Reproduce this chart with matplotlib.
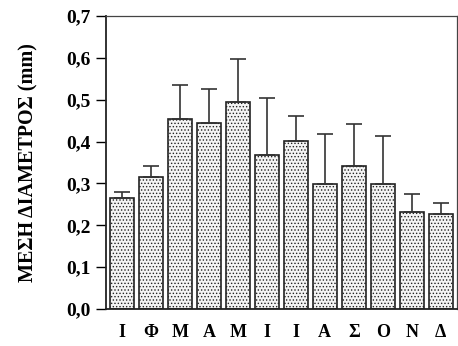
import matplotlib
matplotlib.use("Agg")
import matplotlib.pyplot as plt
import numpy as np

months = ["Ι", "Φ", "Μ", "Α", "Μ", "Ι", "Ι", "Α", "Σ", "Ο", "Ν", "Δ"]
means = [0.264, 0.316, 0.453, 0.445, 0.495, 0.367, 0.401, 0.298, 0.341, 0.298, 0.231, 0.227]
err_top = [0.279, 0.342, 0.534, 0.526, 0.598, 0.504, 0.461, 0.418, 0.443, 0.414, 0.275, 0.252]
yticks = [0.0, 0.1, 0.2, 0.3, 0.4, 0.5, 0.6, 0.7]
ylabel = "ΜΕΣΗ ΔΙΑΜΕΤΡΟΣ (mm)"

plt.rcParams['font.family'] = ['Liberation Serif', 'DejaVu Serif']
plt.rcParams['hatch.color'] = '#777777'
plt.rcParams['hatch.linewidth'] = 0.6

fig = plt.figure(figsize=(4.58, 3.46), dpi=100)
ax = fig.add_axes([0.2314, 0.107, 0.7656, 0.847])

x = np.arange(len(months))
errs = np.array(err_top) - np.array(means)
ax.bar(x, means, width=0.82, color='#f4f4f4', edgecolor='#222222', linewidth=1.2,
       hatch='.....', zorder=2)
ax.errorbar(x, means, yerr=[np.zeros(len(x)), errs], fmt='none', ecolor='#333333',
            elinewidth=1.2, capsize=6, capthick=1.2, zorder=3)

ax.set_xlim(-0.55, len(months) - 0.45)
ax.set_ylim(0, 0.7)
ax.set_yticks(yticks)
ax.set_yticklabels([f"{v:.1f}".replace('.', ',') for v in yticks], fontsize=14, fontweight='bold')
ax.set_xticks(x)
ax.set_xticklabels(months, fontsize=13, fontweight='bold')
ax.tick_params(axis='x', length=0, pad=11)
ax.tick_params(axis='y', direction='out', length=7, width=1, pad=4)
ax.set_ylabel(ylabel, fontsize=14.5, fontweight='bold', labelpad=20)

for s in ['left', 'bottom']:
    ax.spines[s].set_linewidth(1.3)
    ax.spines[s].set_color('#222222')
for s in ['top', 'right']:
    ax.spines[s].set_linewidth(0.9)
    ax.spines[s].set_color('#444444')

fig.savefig("out.png", dpi=100)
